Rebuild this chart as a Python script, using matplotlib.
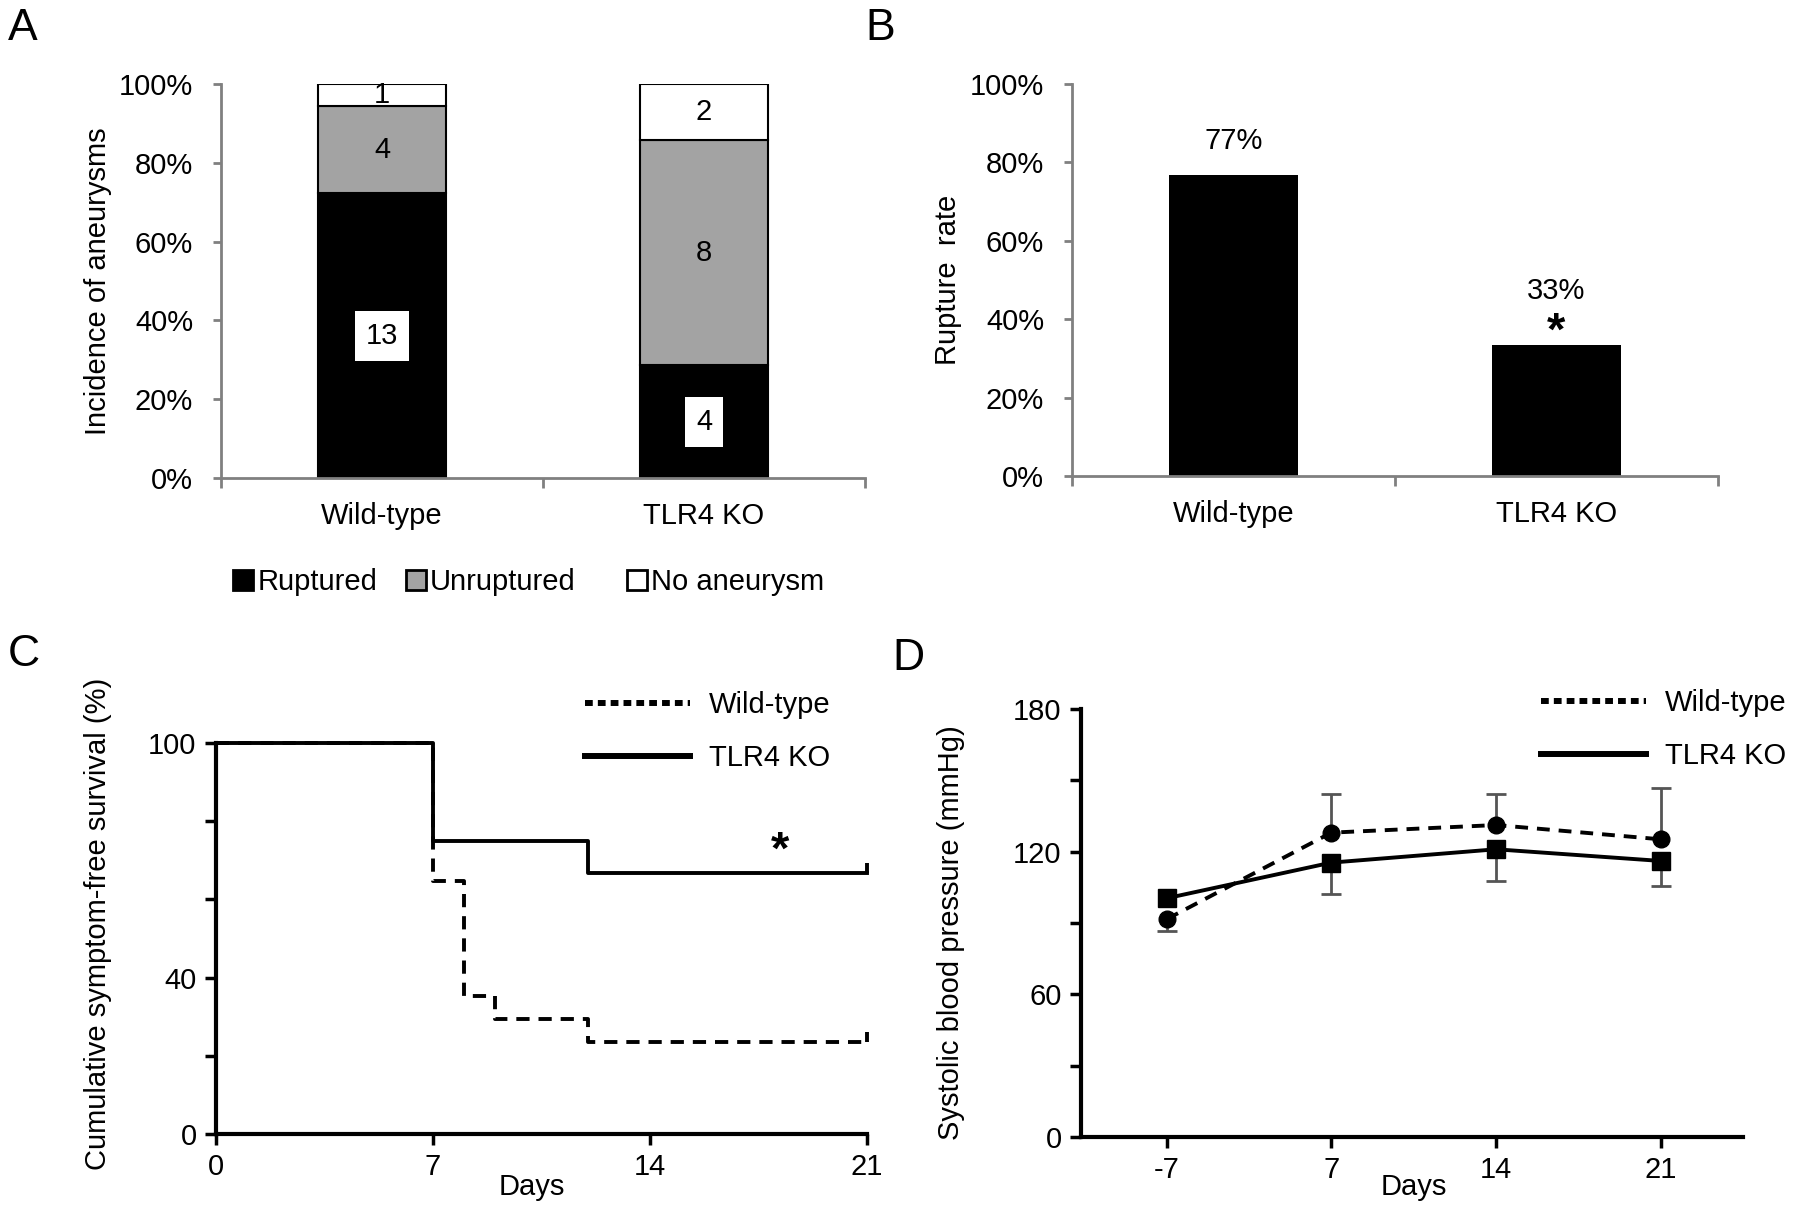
import matplotlib
matplotlib.use('Agg')
import matplotlib.pyplot as plt
from matplotlib.patches import Patch
from matplotlib.lines import Line2D
import matplotlib.transforms as mtransforms
import numpy as np

plt.rcParams['font.family'] = ['Liberation Sans', 'DejaVu Sans']
plt.rcParams['font.size'] = 21

# A: number of animals per outcome
groups = ['Wild-type', 'TLR4 KO']
ruptured = [13, 4]
unruptured = [4, 8]
no_aneurysm = [1, 2]

# B: rupture rate (%)
rupture_rate = [76.9, 33.3]
rate_labels = ['77%', '33%']

# C: Kaplan-Meier, symptom-free survival (%)
wt_days = [0, 7, 8, 9, 12, 21]
wt_surv = [100, 64.7, 35.3, 29.4, 23.5, 23.5]
ko_days = [0, 7, 12, 21]
ko_surv = [100, 75.0, 66.7, 66.7]

# D: systolic blood pressure (mmHg)
bp_days = ['-7', '7', '14', '21']
wt_bp = [91.6, 128.0, 131.2, 125.2]
wt_err_lo = [4.9, 0, 0, 0]
wt_err_hi = [0, 16.1, 12.9, 21.4]
ko_bp = [100.4, 115.4, 121.0, 116.1]
ko_err_lo = [0, 13.3, 13.3, 10.5]

W, H = 1800, 1209
fig = plt.figure(figsize=(W / 100, H / 100), dpi=100)


def px_axes(left, right, top, bottom):
    return fig.add_axes([left / W, 1 - bottom / H, (right - left) / W, (bottom - top) / H])


grey = '#808080'

# ---------------- A ----------------
axA = px_axes(221, 865, 84, 478)
x = np.arange(len(groups))
tot = np.array(ruptured) + np.array(unruptured) + np.array(no_aneurysm)
p_r = np.array(ruptured) / tot * 100
p_u = np.array(unruptured) / tot * 100
p_n = np.array(no_aneurysm) / tot * 100
axA.bar(x, p_r, 0.4, color='black', edgecolor='black', lw=1.5)
axA.bar(x, p_u, 0.4, bottom=p_r, color='#a3a3a3', edgecolor='black', lw=1.5)
axA.bar(x, p_n, 0.4, bottom=p_r + p_u, color='white', edgecolor='black', lw=1.5)
for i in x:
    axA.text(i, p_r[i] / 2, str(ruptured[i]), ha='center', va='center',
             bbox=dict(fc='white', ec='none', pad=8))
    axA.text(i, p_r[i] + p_u[i] / 2, str(unruptured[i]), ha='center', va='center')
    axA.text(i, p_r[i] + p_u[i] + p_n[i] / 2, str(no_aneurysm[i]), ha='center', va='center')

# B
axB = px_axes(1072, 1718, 84, 476)
axB.bar(x, rupture_rate, 0.4, color='black')
axB.text(x[0], rupture_rate[0] + 8.5, rate_labels[0], ha='center', va='center')
axB.text(x[1], rupture_rate[1] + 14, rate_labels[1], ha='center', va='center')
axB.text(x[1], rupture_rate[1] + 0.2, '*', ha='center', va='baseline', fontsize=34, fontweight='bold')

for ax, lab in [(axA, 'Incidence of aneurysms'), (axB, 'Rupture  rate')]:
    ax.set_xlim(-0.5, 1.5)
    ax.set_ylim(0, 100)
    ax.spines[['top', 'right']].set_visible(False)
    for s in ['left', 'bottom']:
        ax.spines[s].set_color(grey)
        ax.spines[s].set_linewidth(2)
    ax.set_yticks(np.arange(0, 101, 20))
    ax.set_yticklabels([f'{v}%' for v in range(0, 101, 20)])
    ax.set_xticks([-0.5, 0.5, 1.5])
    ax.set_xticklabels([])
    ax.set_xticks(x, minor=True)
    ax.set_xticklabels(groups, minor=True)
    ax.tick_params(axis='y', color=grey, width=2, length=6, pad=14)
    ax.tick_params(axis='x', which='major', color=grey, width=2, length=7)
    ax.tick_params(axis='x', which='minor', length=0, pad=17)
    ax.set_ylabel(lab)
axA.yaxis.set_label_coords(-0.17, 0.5)
axB.yaxis.set_label_coords(-0.17, 0.5)

# legend under A
leg_items = [('black', 'Ruptured', 233), ('#a3a3a3', 'Unruptured', 406), ('white', 'No aneurysm', 627)]
for col, lab, xpx in leg_items:
    fig.legend(handles=[Patch(facecolor=col, edgecolor='black', lw=2)], labels=[lab],
               loc='center left', bbox_to_anchor=(xpx / W, 1 - 582 / H), frameon=False,
               handlelength=0.68, handleheight=0.68, handletextpad=0.15,
               borderpad=0, borderaxespad=0)

# ---------------- C ----------------
axC = px_axes(216, 867, 743, 1134)
axC.step(wt_days, wt_surv, where='post', color='black', lw=2.8, ls=(0, (3.4, 2.3)), clip_on=False)
axC.step(ko_days, ko_surv, where='post', color='black', lw=2.8, clip_on=False)
axC.vlines([wt_days[-1], ko_days[-1]], [wt_surv[-1], ko_surv[-1]],
           [wt_surv[-1] + 2.5, ko_surv[-1] + 2.5], color='black', lw=2.8, clip_on=False)
axC.text(18.2, 69, '*', ha='center', va='baseline', fontsize=34, fontweight='bold')
axC.set_xlim(0, 21)
axC.set_ylim(0, 100)
axC.set_xticks([0, 7, 14, 21])
axC.set_yticks(np.arange(0, 101, 20))
axC.set_yticklabels(['0', '', '40', '', '', '100'])
axC.set_ylabel('Cumulative symptom-free survival (%)')
axC.yaxis.set_label_coords(-0.16, 0.538)
tC = mtransforms.blended_transform_factory(axC.transData, axC.transAxes)
axC.text(10.2, -0.136, 'Days', transform=tC, ha='center', va='center')

# ---------------- D ----------------
axD = px_axes(1081, 1743, 709, 1137)
xd = np.arange(len(bp_days))
ecol = '#555555'
for vals, lo, hi in [(wt_bp, wt_err_lo, wt_err_hi), (ko_bp, ko_err_lo, [0] * 4)]:
    vals, lo, hi = np.array(vals), np.array(lo), np.array(hi)
    for err, sign in [(lo, -1), (hi, 1)]:
        m = err > 0
        axD.vlines(xd[m], vals[m], vals[m] + sign * err[m], color=ecol, lw=2)
        axD.plot(xd[m], vals[m] + sign * err[m], ls='none', marker='_', ms=15, mew=2, color=ecol)
axD.plot(xd, wt_bp, ls=(0, (3.3, 2.3)), lw=2.8, color='black', marker='o', ms=12)
axD.plot(xd, ko_bp, ls='-', lw=2.8, color='black', marker='s', ms=12.5)
axD.set_xlim(-0.52, 3.5)
axD.set_ylim(0, 180)
axD.set_xticks(xd)
axD.set_xticklabels(bp_days)
axD.set_yticks(np.arange(0, 181, 30))
axD.set_yticklabels(['0', '', '60', '', '120', '', '180'])
axD.set_ylabel('Systolic blood pressure (mmHg)')
axD.yaxis.set_label_coords(-0.175, 0.477)
tD = mtransforms.blended_transform_factory(axD.transData, axD.transAxes)
axD.text(1.5, -0.117, 'Days', transform=tD, ha='center', va='center')

for ax in [axC, axD]:
    ax.spines[['top', 'right']].set_visible(False)
    for s in ['left', 'bottom']:
        ax.spines[s].set_linewidth(3)
    ax.tick_params(width=2.5, length=8, pad=6)

# legends for C and D
leg_handles = [Line2D([], [], color='black', lw=4.3, ls=(0, (1.3, 0.85))),
               Line2D([], [], color='black', lw=4.3)]
for xpx, ypx in [(585, 691), (1541, 689)]:
    fig.legend(handles=leg_handles, labels=['Wild-type', 'TLR4 KO'], loc='upper left',
               bbox_to_anchor=(xpx / W, 1 - ypx / H), frameon=False, handlelength=3.6,
               handletextpad=0.65, labelspacing=0.85, borderpad=0, borderaxespad=0)

# panel letters
for lab, xpx, ypx in [('A', 23, 28), ('B', 880, 28), ('C', 24, 654), ('D', 908, 658)]:
    fig.text(xpx / W, 1 - ypx / H, lab, fontsize=32, ha='center', va='center')

fig.savefig('out.png', dpi=100)
